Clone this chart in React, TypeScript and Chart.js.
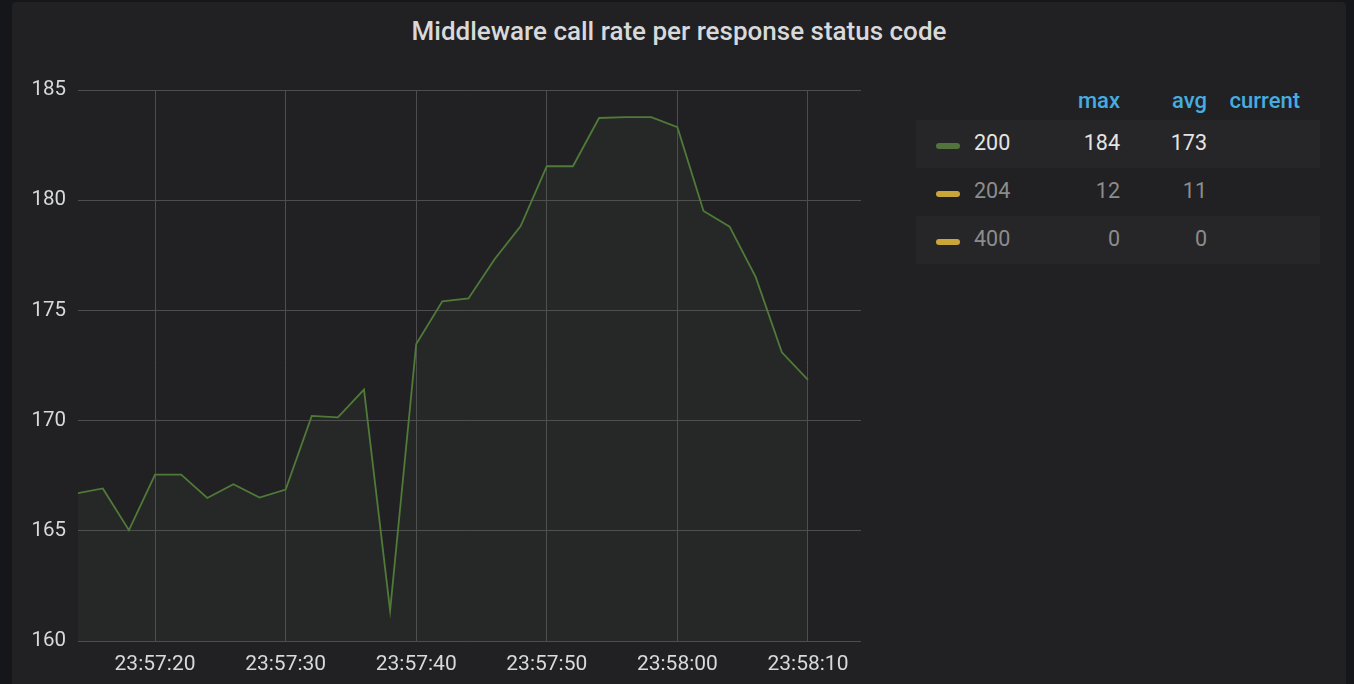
import React, { useEffect, useRef } from "react";
import { Chart, registerables } from "chart.js";

Chart.register(...registerables);

// seconds after 23:57:00
const timeSeconds = [14, 16, 18, 20, 22, 24, 26, 28, 30, 32, 34, 36, 38, 40, 42, 44, 46, 48, 50, 52, 54, 56, 58, 60, 62, 64, 66, 68, 70];
const rate200 = [166.7, 166.92, 165.03, 167.55, 167.55, 166.49, 167.11, 166.51, 166.87, 170.21, 170.15, 171.41, 161.38, 173.47, 175.41, 175.54, 177.32, 178.83, 181.54, 181.54, 183.73, 183.77, 183.77, 183.31, 179.51, 178.8, 176.51, 173.1, 171.85];

const xTickValues = [20, 30, 40, 50, 60, 70];
const xTickLabels = ["23:57:20", "23:57:30", "23:57:40", "23:57:50", "23:58:00", "23:58:10"];
const yMin = 160;
const yMax = 185;
const yStep = 5;

const title = "Middleware call rate per response status code";
const legendHeaders = ["max", "avg", "current"];
const legendNames = ["200", "204", "400"];
const legendColors = ["#52733d", "#c9a53a", "#c9a53a"];
const legendMax = ["184", "12", "0"];
const legendAvg = ["173", "11", "0"];

const FONT = "Roboto, 'Noto Sans', sans-serif";
const TEXT = "#d8d9da";
const GRID = "#4d4d50";

export default function App() {
  const ref = useRef<HTMLCanvasElement | null>(null);

  useEffect(() => {
    if (!ref.current) return;
    const chart = new Chart(ref.current, {
      type: "line",
      data: {
        datasets: [
          {
            label: legendNames[0],
            data: timeSeconds.map((t, i) => ({ x: t, y: rate200[i] })),
            borderColor: "#4f7a38",
            borderWidth: 1.8,
            pointRadius: 0,
            tension: 0,
            fill: "start",
            backgroundColor: "rgba(88,110,78,0.1)",
          },
        ],
      },
      options: {
        animation: false,
        responsive: false,
        maintainAspectRatio: false,
        layout: { padding: { left: 0, top: 90, right: 39, bottom: 0 } },
        plugins: { legend: { display: false }, tooltip: { enabled: false } },
        scales: {
          x: {
            type: "linear",
            min: 14.1,
            max: 74.06,
            afterBuildTicks: (s: any) => {
              s.ticks = xTickValues.map((v) => ({ value: v }));
            },
            afterFit: (s: any) => {
              s.height = 43;
            },
            grid: { color: GRID, lineWidth: 1, drawTicks: false },
            border: { display: false },
            ticks: {
              autoSkip: false,
              maxRotation: 0,
              padding: 11,
              color: TEXT,
              font: { family: FONT, size: 21 },
              callback: (v: any) => {
                const i = xTickValues.indexOf(Number(v));
                return i >= 0 ? xTickLabels[i] : "";
              },
            },
          },
          y: {
            min: yMin,
            max: yMax,
            afterFit: (s: any) => {
              s.width = 78;
            },
            grid: { color: GRID, lineWidth: 1, drawTicks: false },
            border: { display: false },
            ticks: {
              stepSize: yStep,
              padding: 12,
              color: TEXT,
              font: { family: FONT, size: 20.5 },
            },
          },
        },
      },
    });
    return () => chart.destroy();
  }, []);

  const rowTops = [120, 168, 216];

  return (
    <div
      style={{
        position: "fixed",
        left: 0,
        top: 0,
        width: 1354,
        height: 684,
        overflow: "hidden",
        background: "#151619",
        fontFamily: FONT,
      }}
    >
      <div
        style={{
          position: "absolute",
          left: 12,
          top: 2,
          width: 1334,
          height: 720,
          background: "#212124",
          borderRadius: 4,
        }}
      />
      <div
        style={{
          position: "absolute",
          left: 12,
          width: 1334,
          top: 14,
          height: 34,
          lineHeight: "34px",
          textAlign: "center",
          color: TEXT,
          fontSize: 26,
          fontWeight: 500,
        }}
      >
        {title}
      </div>
      <canvas ref={ref} width={900} height={684} style={{ position: "absolute", left: 0, top: 0, width: 900, height: 684 }} />

      {/* legend table */}
      {[1120, 1207, 1300].map((rx, i) => (
        <div
          key={legendHeaders[i]}
          style={{
            position: "absolute",
            right: 1354 - rx,
            top: 86,
            height: 30,
            lineHeight: "30px",
            color: "#45ade0",
            fontSize: 22,
            fontWeight: 500,
          }}
        >
          {legendHeaders[i]}
        </div>
      ))}
      {legendNames.map((name, i) => {
        const top = rowTops[i];
        const col = i === 0 ? "#e4e4e4" : "#8c8c8c";
        return (
          <React.Fragment key={name}>
            {i !== 1 && (
              <div
                style={{
                  position: "absolute",
                  left: 916,
                  top,
                  width: 404,
                  height: 48,
                  background: "#262629",
                }}
              />
            )}
            <div
              style={{
                position: "absolute",
                left: 936,
                top: top + 23,
                width: 24,
                height: 6,
                borderRadius: 3,
                background: legendColors[i],
              }}
            />
            <div style={{ position: "absolute", left: 974, top, height: 46, lineHeight: "46px", fontSize: 21.5, color: col }}>{name}</div>
            <div style={{ position: "absolute", right: 1354 - 1120, top, height: 46, lineHeight: "46px", fontSize: 21.5, color: col }}>
              {legendMax[i]}
            </div>
            <div style={{ position: "absolute", right: 1354 - 1207, top, height: 46, lineHeight: "46px", fontSize: 21.5, color: col }}>
              {legendAvg[i]}
            </div>
          </React.Fragment>
        );
      })}
    </div>
  );
}
